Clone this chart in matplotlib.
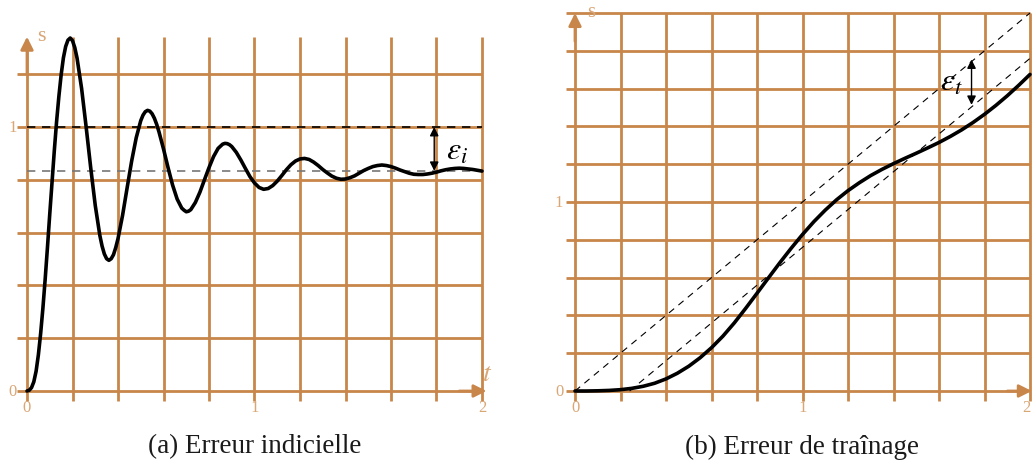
import matplotlib
matplotlib.use("Agg")
import matplotlib.pyplot as plt

plt.rcParams["mathtext.fontset"] = "stix"

# ---------------- data ----------------
# (a) step response
t_step = [0.00, 0.01, 0.02, 0.03, 0.04, 0.05, 0.06, 0.07, 0.08, 0.09, 0.10,
          0.11, 0.12, 0.13, 0.14, 0.15, 0.16, 0.17, 0.18, 0.19, 0.20, 0.21,
          0.22, 0.24, 0.26, 0.28, 0.30, 0.32, 0.33, 0.34, 0.35, 0.36, 0.37,
          0.38, 0.39, 0.40,
          0.42, 0.44, 0.46, 0.48, 0.50, 0.51, 0.52, 0.53, 0.54, 0.55, 0.56,
          0.57, 0.58, 0.60,
          0.62, 0.64, 0.66, 0.68, 0.69, 0.70, 0.71, 0.72, 0.74, 0.76, 0.78, 0.80,
          0.82, 0.84, 0.86, 0.87, 0.88, 0.89, 0.90, 0.92, 0.94, 0.96, 0.98, 1.00,
          1.02, 1.04, 1.06, 1.08, 1.10, 1.12, 1.14, 1.16, 1.18, 1.20,
          1.22, 1.24, 1.26, 1.28, 1.30, 1.32, 1.34, 1.36, 1.38, 1.40,
          1.42, 1.44, 1.46, 1.48, 1.50, 1.52, 1.54, 1.56, 1.58, 1.60,
          1.62, 1.64, 1.66, 1.68, 1.70, 1.72, 1.74, 1.76, 1.78, 1.80,
          1.82, 1.84, 1.86, 1.88, 1.90, 1.92, 1.94, 1.96, 1.98, 2.00]
s_step = [0.000, 0.003, 0.013, 0.035, 0.075, 0.137, 0.218, 0.315, 0.425, 0.545, 0.670,
          0.790, 0.910, 1.020, 1.115, 1.197, 1.262, 1.305, 1.329, 1.337, 1.327, 1.301,
          1.261, 1.146, 1.000, 0.846, 0.703, 0.590, 0.549, 0.519, 0.501, 0.495, 0.501,
          0.516, 0.543, 0.577,
          0.665, 0.769, 0.871, 0.959, 1.024, 1.045, 1.058, 1.063, 1.060, 1.050, 1.033,
          1.010, 0.982, 0.917,
          0.846, 0.780, 0.727, 0.693, 0.685, 0.679, 0.681, 0.687, 0.714, 0.753, 0.800, 0.846,
          0.888, 0.919, 0.935, 0.938, 0.937, 0.933, 0.926, 0.904, 0.875, 0.843, 0.812, 0.788,
          0.771, 0.764, 0.767, 0.778, 0.795, 0.816, 0.838, 0.857, 0.871, 0.879,
          0.881, 0.877, 0.867, 0.854, 0.839, 0.826, 0.814, 0.806, 0.802, 0.803,
          0.808, 0.815, 0.825, 0.835, 0.843, 0.850, 0.854, 0.856, 0.854, 0.850,
          0.844, 0.837, 0.831, 0.825, 0.821, 0.820, 0.820, 0.822, 0.825, 0.829,
          0.834, 0.838, 0.841, 0.843, 0.844, 0.843, 0.841, 0.839, 0.836, 0.833]
step_setpoint = 1.0
step_final = 0.834

# (b) ramp response
t_ramp = [0.00, 0.05, 0.10, 0.15, 0.20, 0.25, 0.30, 0.35, 0.40, 0.45, 0.50,
          0.55, 0.60, 0.65, 0.70, 0.75, 0.80, 0.85, 0.90, 0.95, 1.00,
          1.05, 1.10, 1.15, 1.20, 1.25, 1.30, 1.35, 1.40, 1.45, 1.50,
          1.55, 1.60, 1.65, 1.70, 1.75, 1.80, 1.85, 1.90, 1.95, 2.00]
s_ramp = [0.000, 0.000, 0.001, 0.003, 0.007, 0.014, 0.025, 0.041, 0.064, 0.094, 0.131,
          0.176, 0.229, 0.290, 0.360, 0.437, 0.517, 0.598, 0.678, 0.755, 0.828,
          0.896, 0.957, 1.012, 1.060, 1.102, 1.140, 1.173, 1.203, 1.231, 1.258,
          1.286, 1.315, 1.347, 1.382, 1.421, 1.464, 1.511, 1.562, 1.617, 1.675]
ramp_lag = 0.24

x_ticks = [0, 1, 2]
y_ticks = [0, 1]
captions = ["(a) Erreur indicielle", "(b) Erreur de traînage"]

# ---------------- style ----------------
GRID = "#C8864A"
LABEL = "#D9A676"
SERIF = ["Liberation Serif", "DejaVu Serif"]
W, H = 1032, 464
fig = plt.figure(figsize=(W / 100, H / 100), dpi=100)


def make_axes(px_left, px_right, px_top, px_bottom, x0px, x2px, y0px, y1px):
    ax = fig.add_axes([px_left / W, 1 - px_bottom / H,
                       (px_right - px_left) / W, (px_bottom - px_top) / H])
    xs = (x2px - x0px) / 2.0
    ys = (y0px - y1px)
    ax.set_xlim((px_left - x0px) / xs, (px_right - x0px) / xs)
    ax.set_ylim((y0px - px_bottom) / ys, (y0px - px_top) / ys)
    ax.axis("off")
    return ax


def draw_grid(ax, xmax, ymax, ytop_v, xleft, ybot):
    lw = 2.0
    n = int(round(xmax / 0.2))
    for i in range(1, n + 1):
        x = i * 0.2
        ax.plot([x, x], [ybot, ytop_v], color=GRID, lw=lw, solid_capstyle="butt", zorder=1)
    m = int(round(ymax / 0.2))
    for j in range(1, m + 1):
        y = j * 0.2
        ax.plot([xleft, xmax], [y, y], color=GRID, lw=lw, solid_capstyle="butt", zorder=1)
    ax.plot([xleft, 1.97], [0, 0], color=GRID, lw=lw, solid_capstyle="butt", zorder=2)
    ax.plot([0, 0], [ybot, ytop_v - 0.02], color=GRID, lw=lw, solid_capstyle="butt", zorder=2)


def axis_arrow(ax, tip, start):
    ax.annotate("", xy=tip, xytext=start,
                arrowprops=dict(arrowstyle="-|>", color=GRID, lw=2, mutation_scale=19,
                                shrinkA=0, shrinkB=0), zorder=3)


def gap_arrow(ax, x, y_top, y_bot):
    ax.annotate("", xy=(x, y_top), xytext=(x, y_bot),
                arrowprops=dict(arrowstyle="<|-|>", color="black", lw=1.0,
                                mutation_scale=13, shrinkA=0, shrinkB=0), zorder=6)


# ---------- left panel ----------
axL = make_axes(2, 505, 20, 412, 27, 482, 392, 128)
draw_grid(axL, 2.0, 1.2, 1.342, -0.044, -0.038)
axis_arrow(axL, (2.02, 0), (1.9, 0))
axis_arrow(axL, (0, 1.342), (0, 1.2))
axL.plot([0, 2], [step_setpoint, step_setpoint], color="black", lw=1.2,
         dashes=(5, 4), zorder=4)
axL.plot([0, 2], [step_final, step_final], color="#777777", lw=1.2,
         dashes=(5, 4), zorder=4)
axL.plot(t_step, s_step, color="black", lw=2.6, zorder=5,
         solid_joinstyle="round", solid_capstyle="round")
gap_arrow(axL, 1.79, step_setpoint, step_final)
axL.text(1.89, 0.912, r"$\varepsilon_i$", fontsize=23, ha="center", va="center")
axL.text(0.065, 1.345, "s", fontsize=16, color=LABEL, family=SERIF, ha="center", va="center")
axL.text(2.022, 0.072, r"$t$", fontsize=20, color=LABEL, ha="center", va="center")
for xv in x_ticks:
    axL.text(xv, -0.062, str(xv), fontsize=12, color=LABEL, family=SERIF,
             ha="center", va="center")
for yv in y_ticks:
    axL.text(-0.062, yv, str(yv), fontsize=12, color=LABEL, family=SERIF,
             ha="center", va="center")

# ---------- right panel ----------
axR = make_axes(550, 1032, 2, 412, 575, 1030, 392, 203)
draw_grid(axR, 2.0, 2.0, 2.0, -0.041, -0.053)
axis_arrow(axR, (2.008, 0), (1.9, 0))
axis_arrow(axR, (0, 2.0), (0, 1.85))
axR.plot([0, 2], [0, 2], color="black", lw=0.8, dashes=(6, 5), zorder=4)
axR.plot([ramp_lag, 2], [0, 2 - ramp_lag], color="black", lw=0.8, dashes=(6, 5), zorder=4)
axR.plot(t_ramp, s_ramp, color="black", lw=2.6, zorder=5,
         solid_joinstyle="round", solid_capstyle="round")
gap_arrow(axR, 1.743, 1.754, 1.754 - ramp_lag)
axR.text(1.655, 1.64, r"$\varepsilon_t$", fontsize=23, ha="center", va="center")
axR.text(0.07, 2.01, "s", fontsize=15, color=LABEL, family=SERIF, ha="center", va="center")
for xv in x_ticks:
    xpos = min(xv, 1.982)
    axR.text(xpos, -0.085, str(xv), fontsize=12, color=LABEL, family=SERIF,
             ha="center", va="center")
for yv in y_ticks:
    axR.text(-0.07, yv, str(yv), fontsize=12, color=LABEL, family=SERIF,
             ha="center", va="center")

# captions
fig.text(255 / W, 1 - 447 / H, captions[0], fontsize=19.5, family=SERIF,
         ha="center", va="center", color="#1a1a1a")
fig.text(802 / W, 1 - 447 / H, captions[1], fontsize=19.5, family=SERIF,
         ha="center", va="center", color="#1a1a1a")

fig.savefig("out.png", dpi=100)
